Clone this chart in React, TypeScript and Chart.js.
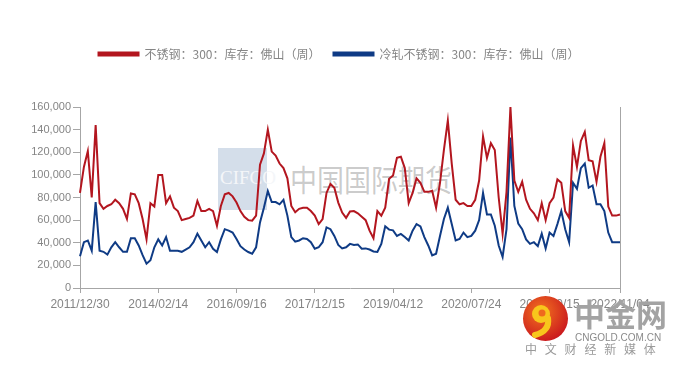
import React, { useEffect, useRef } from 'react';
import { Chart, registerables } from 'chart.js';

Chart.register(...registerables);

// x-axis tick labels and the category index each one sits on
const tickLabels = ['2011/12/30', '2014/02/14', '2016/09/16', '2017/12/15', '2019/04/12', '2020/07/24', '2021/10/15', '2022/11/04'];
const tickIndices = [0, 20, 40, 60, 80, 100, 120, 138];

const seriesNames = ['不锈钢：300：库存：佛山（周）', '冷轧不锈钢：300：库存：佛山（周）'];

// 不锈钢：300：库存：佛山（周）, thousand tonnes
const stainlessK = [
  84, 107, 121, 80, 144, 75, 70, 72.5, 74, 78, 75, 70, 61, 83.6, 82.8, 75, 61, 43, 75, 72, 100, 100, 75, 81, 71, 68, 60, 61, 62, 64, 77, 68, 68,
  70, 68, 55, 72.5, 82.8, 84, 81, 75.5, 68, 63, 60, 59.5, 64, 109, 119, 140, 120.6, 117, 110, 106, 97, 72.5, 67, 70, 71, 71, 68, 64, 56.5, 61, 84, 92, 88.6, 75.5, 66.7, 62,
  67.6, 68, 66, 63, 60, 50.7, 44, 68, 64, 71, 96.5, 99.4, 115, 116, 106, 75, 84, 97, 93, 85, 85, 86, 71, 93, 122, 148, 110, 78, 74, 75, 72.5, 72.5, 78,
  95, 134, 115, 128, 122, 80, 48, 85, 160, 95, 85, 94, 78, 70, 66, 60, 75, 60, 75, 80, 96, 93, 68, 62, 126, 107, 130, 138, 113, 112, 94, 116, 128, 72, 64, 64, 65,
];

// 冷轧不锈钢：300：库存：佛山（周）, thousand tonnes
const coldRolledK = [
  28, 40.5, 42, 33, 76, 33, 32, 29.5, 36, 40.5, 36, 32, 32, 44, 44, 37.6, 29, 21.5, 24.5, 36, 43, 37.6, 45, 33, 33, 33, 32, 34, 36, 40.5, 48, 42, 36,
  40.5, 34.7, 31.8, 43, 52, 50.7, 49, 43.4, 37, 34, 31.8, 30.3, 36, 58, 71, 85.7, 76, 76, 74, 78, 64, 45, 41, 42, 44, 43.4, 40.5, 34.7, 36, 40.5, 53.6, 52, 46, 38, 35, 36,
  39, 38, 38.5, 34.7, 35, 34, 32.3, 31.8, 39, 54.5, 51.6, 51, 46, 47.8, 45, 42, 50.7, 56.5, 54.5, 45, 37.6, 28.8, 30.3, 46, 61, 71, 56.5, 42, 43.4, 49, 45, 46, 50.7,
  60, 84, 65, 65, 55, 37.6, 27.4, 52, 133, 72.5, 57, 52, 43, 39, 40.5, 37, 48, 35, 49, 46, 56.5, 68, 52, 40.5, 93, 87.7, 106, 110, 88.6, 90.6, 74, 74, 68, 49, 40.5, 40.5, 40.5,
];

const yMin = 0;
const yMax = 160000;
const yStep = 20000;

const RED = '#b3161f';
const BLUE = '#0f3b85';
const AXIS = '#a6a6a6';
const TEXT = '#858585';

const W = 680;
const H = 368;

const categories = stainlessK.map((_, i) => {
  const t = tickIndices.indexOf(i);
  return t >= 0 ? tickLabels[t] : '';
});

// extra space under the legend, and a small horizontal shift of the legend row
const legendTweak = {
  id: 'legendTweak',
  beforeInit(chart: any) {
    const lg = chart.legend;
    const origFit = lg.fit;
    lg.fit = function () {
      origFit.call(this);
      this.height += 37;
    };
    const origDraw = lg.draw;
    lg.draw = function () {
      const ctx = this.ctx;
      ctx.save();
      ctx.translate(29, 0);
      origDraw.call(this);
      ctx.restore();
    };
  },
};

function ChartCanvas() {
  const ref = useRef<HTMLCanvasElement | null>(null);
  useEffect(() => {
    if (!ref.current) return;
    const chart = new Chart(ref.current, {
      type: 'line',
      data: {
        labels: categories,
        datasets: [
          {
            label: seriesNames[0],
            data: stainlessK.map((v) => v * 1000),
            borderColor: RED,
            backgroundColor: RED,
            borderWidth: 2,
            pointRadius: 0,
            tension: 0,
          },
          {
            label: seriesNames[1],
            data: coldRolledK.map((v) => v * 1000),
            borderColor: BLUE,
            backgroundColor: BLUE,
            borderWidth: 2,
            pointRadius: 0,
            tension: 0,
          },
        ],
      },
      options: {
        animation: false,
        responsive: false,
        devicePixelRatio: 1,
        layout: { padding: { top: 35, left: 0, right: 60, bottom: 0 } },
        plugins: {
          legend: {
            display: true,
            position: 'top',
            labels: {
              boxWidth: 40,
              boxHeight: 3,
              padding: 13,
              color: TEXT,
              font: { family: "'Noto Sans CJK SC', sans-serif", size: 12 },
            },
          },
          tooltip: { enabled: false },
        },
        scales: {
          x: {
            type: 'category',
            offset: false,
            grid: { display: true, drawOnChartArea: false, drawTicks: true, tickLength: 5, color: AXIS },
            border: { display: true, color: AXIS, width: 1 },
            ticks: {
              autoSkip: false,
              maxRotation: 0,
              minRotation: 0,
              padding: 4,
              color: TEXT,
              font: { family: "'Liberation Sans', Arial, sans-serif", size: 12 },
              callback: (_v: any, i: number) => (categories[i] ? categories[i] : null),
            },
            afterFit: (s: any) => {
              s.height = H - 288;
            },
          },
          y: {
            min: yMin,
            max: yMax,
            grid: { display: true, drawOnChartArea: false, drawTicks: true, tickLength: 7, color: AXIS },
            border: { display: true, color: AXIS, width: 1 },
            ticks: {
              stepSize: yStep,
              padding: 2,
              color: TEXT,
              font: { family: "'Liberation Sans', Arial, sans-serif", size: 11 },
              callback: (v: any) => Number(v).toLocaleString('en-US'),
            },
            afterFit: (s: any) => {
              s.width = 80;
            },
          },
          y2: {
            position: 'right',
            min: yMin,
            max: yMax,
            grid: { display: false },
            border: { display: true, color: AXIS, width: 1 },
            ticks: { display: false },
            afterFit: (s: any) => {
              s.width = 0;
            },
          },
        },
      } as any,
      plugins: [legendTweak],
    });
    return () => chart.destroy();
  }, []);
  return <canvas ref={ref} width={W} height={H} style={{ position: 'absolute', left: 0, top: 0, width: W, height: H, zIndex: 2 }} />;
}

export default function App() {
  return (
    <div style={{ position: 'fixed', left: 0, top: 0, width: W, height: H, background: '#fff', overflow: 'hidden' }}>
      {/* CIFCO watermark (behind the lines) */}
      <div style={{ position: 'absolute', left: 218, top: 148, width: 49, height: 62, background: '#d4deea', zIndex: 1 }} />
      <div
        style={{
          position: 'absolute',
          left: 220,
          top: 166,
          fontFamily: "'Liberation Serif', serif",
          fontSize: 19,
          color: '#f4f6f9',
          zIndex: 1,
          lineHeight: '24px',
        }}
      >
        CIFCO
      </div>
      <div
        style={{
          position: 'absolute',
          left: 290,
          top: 158,
          fontFamily: "'Noto Sans CJK SC', sans-serif",
          fontSize: 30,
          lineHeight: '40px',
          color: 'rgba(140,140,140,0.45)',
          transform: 'scaleX(0.9)',
          transformOrigin: 'left top',
          whiteSpace: 'nowrap',
          zIndex: 1,
        }}
      >
        中国国际期货
      </div>
      <ChartCanvas />
      {/* 中金网 logo (above the chart) */}
      <svg style={{ position: 'absolute', left: 520, top: 293, zIndex: 3 }} width={52} height={52} viewBox="0 0 52 52">
        <defs>
          <radialGradient id="lg" cx="40%" cy="35%" r="70%">
            <stop offset="0" stopColor="#f3731f" />
            <stop offset="1" stopColor="#c9161e" />
          </radialGradient>
        </defs>
        <circle cx="25.5" cy="25.5" r="22.5" fill="url(#lg)" />
        <circle cx="21" cy="21" r="9" fill="#f8c61c" />
        <circle cx="22" cy="20" r="3.5" fill="#ef6a1e" />
        <path d="M 28 25 Q 30 38 15 42" stroke="#f8c61c" strokeWidth="6" fill="none" strokeLinecap="round" />
      </svg>
      <div
        style={{
          position: 'absolute',
          left: 574,
          top: 292,
          fontFamily: "'Noto Sans CJK SC', sans-serif",
          fontWeight: 700,
          fontSize: 31,
          lineHeight: '42px',
          color: '#a3a3a3',
          whiteSpace: 'nowrap',
          zIndex: 3,
        }}
      >
        中金网
      </div>
      <div
        style={{
          position: 'absolute',
          left: 575,
          top: 332,
          fontFamily: "'Liberation Sans', Arial, sans-serif",
          fontSize: 10,
          lineHeight: '11px',
          color: '#8a8a8a',
          whiteSpace: 'nowrap',
          zIndex: 3,
        }}
      >
        CNGOLD.COM.CN
      </div>
      <div
        style={{
          position: 'absolute',
          left: 525,
          top: 342,
          fontFamily: "'Noto Sans CJK SC', sans-serif",
          fontSize: 12,
          lineHeight: '14px',
          letterSpacing: '7.8px',
          color: '#9a9a9a',
          whiteSpace: 'nowrap',
          zIndex: 3,
        }}
      >
        中文财经新媒体
      </div>
    </div>
  );
}
